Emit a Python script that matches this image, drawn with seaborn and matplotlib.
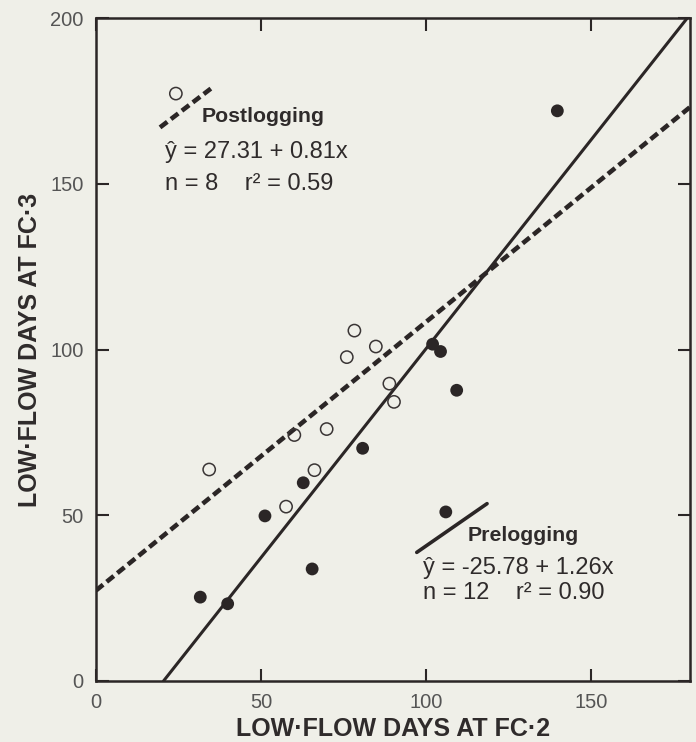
import matplotlib
matplotlib.use("Agg")
import matplotlib.pyplot as plt
import seaborn as sns
import numpy as np
import pandas as pd

# ---- data ----
pre_x = [31.6, 39.9, 51.2, 62.8, 65.5, 80.8, 102.0, 104.4, 109.3, 139.8]
pre_y = [25.3, 23.3, 49.8, 59.8, 33.8, 70.2, 101.6, 99.4, 87.7, 172.0]
post_x = [34.3, 57.6, 60.1, 66.2, 69.9, 76.0, 78.3, 84.8, 88.9, 90.3]
post_y = [63.8, 52.6, 74.2, 63.6, 76.0, 97.7, 105.7, 100.9, 89.7, 84.2]

pre_coef = (-25.78, 1.26)   # intercept, slope
post_coef = (27.31, 0.81)
pre_xrange = [20.46, 180.0]
post_xrange = [0.0, 180.0]

# legend keys (drawn inside the plot)
post_key_x = [19.4, 34.8]
post_key_y = [167.0, 178.7]
post_key_pt = (24.2, 177.2)
pre_key_x = [97.2, 118.5]
pre_key_y = [38.8, 53.5]
pre_key_pt = (106.0, 51.0)

xticks = [0, 50, 100, 150]
yticks = [0, 50, 100, 150, 200]

BG = "#efefe8"
INK = "#2b2626"

sns.set_theme(style="ticks")
plt.rcParams['font.family'] = ['Liberation Sans', 'DejaVu Sans']

fig = plt.figure(figsize=(6.96, 7.42), dpi=100, facecolor=BG)
ax = fig.add_axes([96/696, 61/742, 594/696, 663/742])
ax.set_facecolor(BG)

pre_df = pd.DataFrame({"x": pre_x, "y": pre_y})
post_df = pd.DataFrame({"x": post_x, "y": post_y})

# regression lines
pre_line = pd.DataFrame({"x": pre_xrange,
                         "y": [pre_coef[0] + pre_coef[1] * v for v in pre_xrange]})
post_line = pd.DataFrame({"x": post_xrange,
                          "y": [post_coef[0] + post_coef[1] * v for v in post_xrange]})

sns.lineplot(data=post_line, x="x", y="y", ax=ax, color=INK, lw=3.3,
             linestyle=(0, (2.0, 1.0)), dash_capstyle="butt", zorder=2)
sns.lineplot(data=pre_line, x="x", y="y", ax=ax, color=INK, lw=2.2, zorder=2)

# points
sns.scatterplot(data=post_df, x="x", y="y", ax=ax, s=78, facecolor="none",
                edgecolor="#3a3535", linewidth=1.1, zorder=3)
sns.scatterplot(data=pre_df, x="x", y="y", ax=ax, s=85, color=INK,
                edgecolor="none", zorder=3)

# legend keys
ax.plot(post_key_x, post_key_y, color=INK, lw=3.3, linestyle=(0, (2.0, 1.0)),
        dash_capstyle="butt")
ax.scatter([post_key_pt[0]], [post_key_pt[1]], s=78, facecolor="none",
           edgecolor="#3a3535", linewidth=1.1, zorder=3)
ax.plot(pre_key_x, pre_key_y, color=INK, lw=2.6)
ax.scatter([pre_key_pt[0]], [pre_key_pt[1]], s=85, color=INK, edgecolor="none", zorder=3)

TXT = "#2f2b2b"
ax.text(32.1, 170.3, "Postlogging", fontsize=15.3, fontweight="bold", color=TXT, va="center")
ax.text(20.9, 159.5, "ŷ = 27.31 + 0.81x", fontsize=17, color=TXT, va="center")
ax.text(20.9, 149.8, "n = 8    r² = 0.59", fontsize=17, color=TXT, va="center")
ax.text(112.7, 43.8, "Prelogging", fontsize=15.3, fontweight="bold", color=TXT, va="center")
ax.text(99.1, 34.2, "ŷ = -25.78 + 1.26x", fontsize=17, color=TXT, va="center")
ax.text(99.1, 26.4, "n = 12    r² = 0.90", fontsize=17, color=TXT, va="center")

ax.set_xlim(0, 180)
ax.set_ylim(0, 200)
ax.set_xticks(xticks)
ax.set_yticks(yticks)
ax.tick_params(direction="in", length=9, width=1.5, color=INK,
               labelsize=14.5, labelcolor="#555555", pad=9,
               top=True, right=True, labeltop=False, labelright=False)
for s in ax.spines.values():
    s.set_linewidth(1.8)
    s.set_color(INK)

ax.set_xlabel("LOW·FLOW DAYS AT FC·2", fontsize=18, fontweight="bold", color=TXT, labelpad=3)
ax.set_ylabel("LOW·FLOW DAYS AT FC·3", fontsize=18, fontweight="bold", color=TXT, labelpad=6)

fig.savefig("out.png", dpi=100, facecolor=BG)
